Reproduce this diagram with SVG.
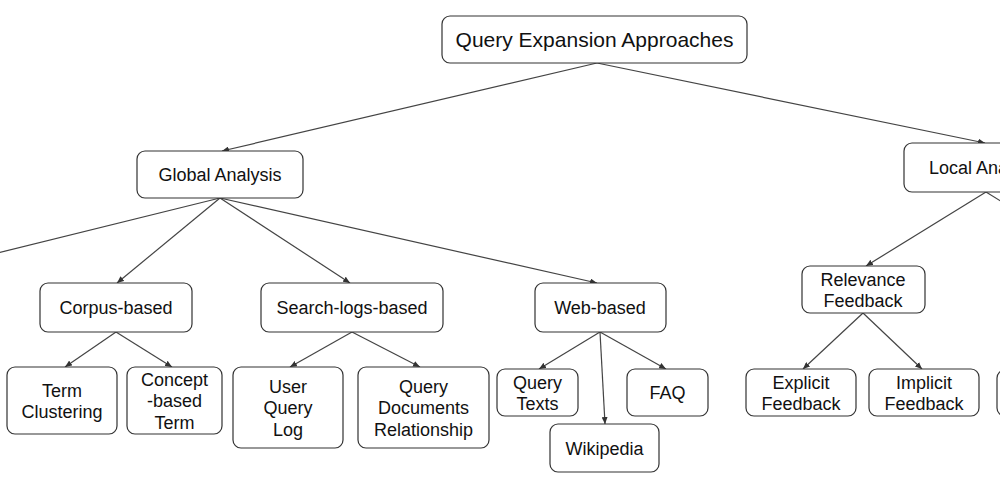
<svg xmlns="http://www.w3.org/2000/svg" width="1000" height="500" viewBox="0 0 1000 500">
<defs>
<marker id="arr" markerWidth="7" markerHeight="6" refX="7" refY="3" orient="auto" markerUnits="userSpaceOnUse">
<path d="M0,0 L7,3 L0,6 z" fill="#333"/>
</marker>
<style>
.n rect{fill:#fff;stroke:#333;stroke-width:1.2}
.n text{font-family:"Liberation Sans",Arial,sans-serif;font-size:18px;fill:#111;text-anchor:middle}
#conn line{stroke:#444;stroke-width:1.2;marker-end:url(#arr)}
#conn line.na{marker-end:none}
</style>
</defs>
<rect width="1000" height="500" fill="#fff"/>
<g id="conn">
<line x1="597" y1="63" x2="222" y2="151"/>
<line x1="597" y1="63" x2="985" y2="143"/>
<line class="na" x1="220" y1="198" x2="-144" y2="288"/>
<line x1="220" y1="198" x2="117" y2="283"/>
<line x1="220" y1="198" x2="350" y2="283"/>
<line x1="220" y1="198" x2="597" y2="283"/>
<line x1="116" y1="332" x2="65" y2="367"/>
<line x1="116" y1="332" x2="172" y2="367"/>
<line x1="352" y1="332" x2="290" y2="367"/>
<line x1="352" y1="332" x2="420" y2="367"/>
<line x1="600" y1="332" x2="539" y2="369"/>
<line x1="600" y1="332" x2="605" y2="424"/>
<line x1="600" y1="332" x2="666" y2="369"/>
<line x1="986" y1="192" x2="866" y2="266"/>
<line class="na" x1="986" y1="192" x2="1106" y2="266"/>
<line x1="863" y1="313" x2="803" y2="369"/>
<line x1="863" y1="313" x2="922" y2="369"/>
</g>
<g id="root" class="n"><rect x="442" y="16" width="305" height="47" rx="8"/><text x="594.5" y="47" style="font-size:21px">Query Expansion Approaches</text></g>
<g id="global" class="n"><rect x="137" y="151" width="166" height="47" rx="8"/><text x="220" y="181">Global Analysis</text></g>
<g id="local" class="n"><rect x="904" y="143" width="164" height="49" rx="8"/><text x="986" y="174">Local Analysis</text></g>
<g id="corpus" class="n"><rect x="40" y="283" width="152" height="49" rx="8"/><text x="116" y="314">Corpus-based</text></g>
<g id="searchlogs" class="n"><rect x="261" y="283" width="182" height="49" rx="8"/><text x="352" y="314">Search-logs-based</text></g>
<g id="web" class="n"><rect x="535" y="283" width="131" height="49" rx="8"/><text x="600" y="314">Web-based</text></g>
<g id="relevance" class="n"><rect x="802" y="266" width="123" height="47" rx="8"/><text x="863" y="285.5">Relevance</text><text x="863" y="307">Feedback</text></g>
<g id="termclustering" class="n"><rect x="7" y="367" width="110" height="67" rx="8"/><text x="62" y="396.5">Term</text><text x="62" y="418">Clustering</text></g>
<g id="conceptterm" class="n"><rect x="127" y="367" width="95" height="67" rx="8"/><text x="174.5" y="385.5">Concept</text><text x="174.5" y="407">-based</text><text x="174.5" y="428.5">Term</text></g>
<g id="userquerylog" class="n"><rect x="233" y="367" width="110" height="81" rx="8"/><text x="288" y="392.5">User</text><text x="288" y="414">Query</text><text x="288" y="435.5">Log</text></g>
<g id="querydocs" class="n"><rect x="358" y="367" width="131" height="81" rx="8"/><text x="423.5" y="392.5">Query</text><text x="423.5" y="414">Documents</text><text x="423.5" y="435.5">Relationship</text></g>
<g id="querytexts" class="n"><rect x="497" y="369" width="81" height="47" rx="8"/><text x="537.5" y="388.5">Query</text><text x="537.5" y="410">Texts</text></g>
<g id="faq" class="n"><rect x="627" y="369" width="81" height="47" rx="8"/><text x="667.5" y="399">FAQ</text></g>
<g id="wikipedia" class="n"><rect x="550" y="424" width="109" height="48" rx="8"/><text x="604.5" y="454.5">Wikipedia</text></g>
<g id="explicit" class="n"><rect x="746" y="369" width="110" height="47" rx="8"/><text x="801" y="388.5">Explicit</text><text x="801" y="410">Feedback</text></g>
<g id="implicit" class="n"><rect x="869" y="369" width="110" height="47" rx="8"/><text x="924" y="388.5">Implicit</text><text x="924" y="410">Feedback</text></g>
<g id="offright" class="n"><rect x="997" y="370" width="110" height="46" rx="8"/></g>
</svg>
